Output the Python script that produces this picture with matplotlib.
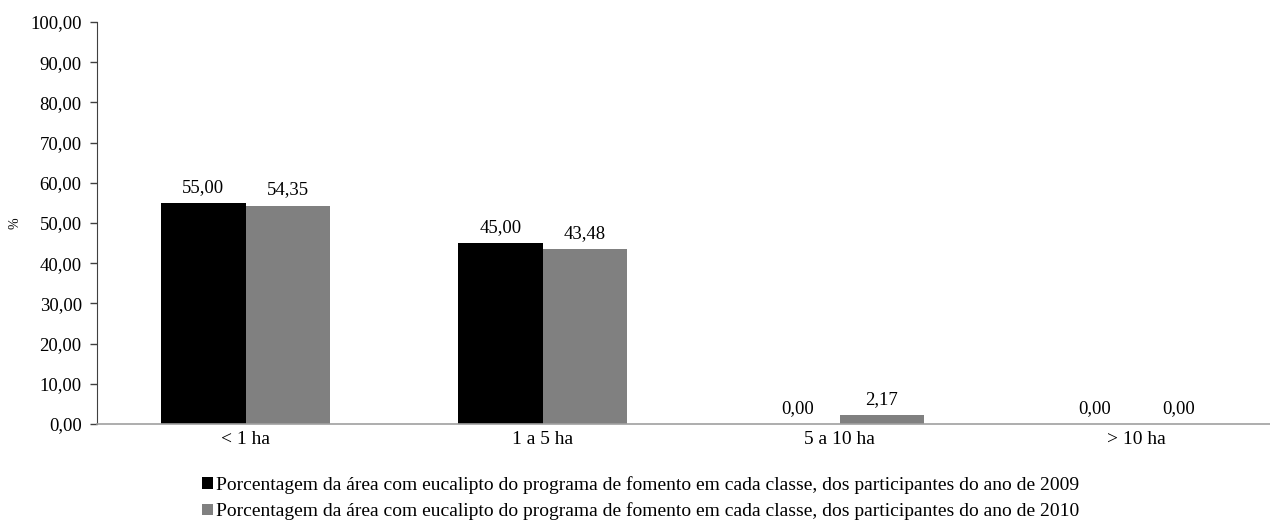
import matplotlib
matplotlib.use("Agg")
import matplotlib.pyplot as plt
import numpy as np

categories = ["< 1 ha", "1 a 5 ha", "5 a 10 ha", "> 10 ha"]
values_2009 = [55.00, 45.00, 0.00, 0.00]
values_2010 = [54.35, 43.48, 2.17, 0.00]
legend_labels = [
    "Porcentagem da área com eucalipto do programa de fomento em cada classe, dos participantes do ano de 2009",
    "Porcentagem da área com eucalipto do programa de fomento em cada classe, dos participantes do ano de 2010",
]
yticks = np.arange(0, 101, 10)

plt.rcParams['font.family'] = ['Liberation Serif', 'DejaVu Serif']

W, H = 1270, 524
fig = plt.figure(figsize=(W / 100, H / 100), dpi=100)
left, right = 97, 1285
top, bottom = 22, 424
ax = fig.add_axes([left / W, 1 - bottom / H, (right - left) / W, (bottom - top) / H])

x = np.arange(len(categories))
bw = 0.284
b1 = ax.bar(x - bw / 2, values_2009, bw, color="#000000", label=legend_labels[0])
b2 = ax.bar(x + bw / 2, values_2010, bw, color="#808080", label=legend_labels[1])

fmt = lambda v: f"{v:.2f}".replace(".", ",")
for bars, vals in ((b1, values_2009), (b2, values_2010)):
    for rect, v in zip(bars, vals):
        ax.annotate(fmt(v), (rect.get_x() + rect.get_width() / 2, v),
                    xytext=(0, 5), textcoords="offset points",
                    ha="center", va="bottom", fontsize=13.5)

ax.set_xlim(-0.5, len(categories) - 0.5)
ax.set_ylim(0, 100)
ax.set_yticks(yticks)
ax.set_yticklabels([fmt(t) for t in yticks], fontsize=13.5)
ax.set_xticks(x)
ax.set_xticklabels(categories, fontsize=14)
ax.tick_params(axis="x", length=0, pad=5)
ax.tick_params(axis="y", length=5, width=1, direction="out", pad=6, color="#404040")
for s in ("top", "right"):
    ax.spines[s].set_visible(False)
ax.spines["left"].set_color("#404040")
ax.spines["bottom"].set_color("#a0a0a0")
ax.spines["bottom"].set_linewidth(1.2)

fig.text(15 / W, 1 - 223 / H, "%", rotation=90, fontsize=10, ha="center", va="center")

handles = [b1, b2]
fig.legend(handles, legend_labels, loc="upper left", bbox_to_anchor=(202 / W, 1 - 476 / H),
           ncol=1, frameon=False, fontsize=14, handlelength=0.55, handleheight=0.55,
           handletextpad=0.15, labelspacing=0.45, borderaxespad=0, borderpad=0)

fig.savefig("out.png", dpi=100)
